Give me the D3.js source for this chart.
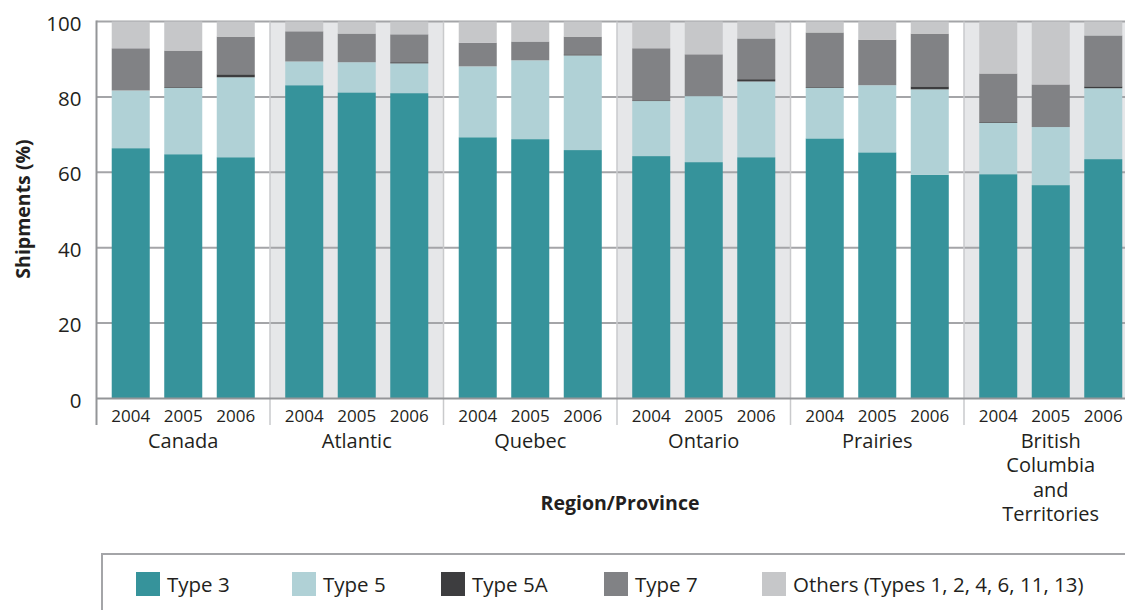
<!DOCTYPE html>
<html>
<head>
<meta charset="utf-8">
<script src="https://cdn.jsdelivr.net/npm/d3@7/dist/d3.min.js"></script>
<style>
  html, body { margin: 0; padding: 0; background: #fff; }
  svg { display: block; font-family: "Open Sans", "Noto Sans", sans-serif; }
</style>
</head>
<body>
<svg id="chart" width="1125" height="610"></svg>
<script>
// ---- Data ----
const regions = ["Canada", "Atlantic", "Quebec", "Ontario", "Prairies", "British Columbia and Territories"];
const regionLines = [["Canada"], ["Atlantic"], ["Quebec"], ["Ontario"], ["Prairies"], ["British", "Columbia", "and", "Territories"]];
const years = ["2004", "2005", "2006"];
const seriesNames = ["Type 3", "Type 5", "Type 5A", "Type 7", "Others (Types 1, 2, 4, 6, 11, 13)"];
// values per region (Canada..BC), per year (2004, 2005, 2006)
const type3  = [66.4, 64.8, 64.0, 83.1, 81.2, 81.0, 69.3, 68.8, 65.9, 64.3, 62.7, 64.0, 69.0, 65.3, 59.3, 59.5, 56.6, 63.5];
const type5  = [15.3, 17.6, 21.2,  6.3,  8.0,  7.9, 18.8, 20.9, 25.1, 14.6, 17.5, 20.1, 13.4, 17.8, 22.7, 13.6, 15.4, 18.8];
const type5A = [ 0.0,  0.2,  0.8,  0.0,  0.0,  0.3,  0.0,  0.0,  0.3,  0.2,  0.0,  0.6,  0.2,  0.0,  0.8,  0.2,  0.0,  0.5];
const type7  = [11.2,  9.7, 10.0,  8.0,  7.6,  7.4,  6.3,  5.0,  4.7, 13.8, 11.1, 10.8, 14.5, 12.1, 14.0, 12.9, 11.3, 13.5];
const others = [ 7.1,  7.7,  4.0,  2.6,  3.2,  3.4,  5.6,  5.3,  4.0,  7.1,  8.7,  4.5,  2.9,  4.8,  3.2, 13.8, 16.7,  3.7];
const yTicks = [0, 20, 40, 60, 80, 100];

const colors = ["#36939b", "#b0d1d6", "#3d3d3f", "#818285", "#c6c7c9"];
const seriesData = [type3, type5, type5A, type7, others];

// ---- Build table ----
const rows = [];
regions.forEach((r, ri) => {
  years.forEach((yr, yi) => {
    const i = ri * years.length + yi;
    const row = { region: r, year: yr };
    seriesNames.forEach((s, si) => { row[s] = seriesData[si][i]; });
    rows.push(row);
  });
});

const svg = d3.select("#chart");
const plotLeft = 96.5, groupW = 173.5;
const plotTop = 21.5, plotBottom = 398.5;

const x0 = d3.scaleBand().domain(regions).range([plotLeft, plotLeft + groupW * regions.length]).padding(0);
const x1 = d3.scaleBand().domain(years).range([0, x0.bandwidth()]).paddingInner(0.276).paddingOuter(0.29);
const y = d3.scaleLinear().domain([0, 100]).range([plotBottom, plotTop]);
const color = d3.scaleOrdinal().domain(seriesNames).range(colors);

// group backgrounds
svg.append("g").selectAll("rect").data(regions).join("rect")
  .attr("x", d => x0(d)).attr("y", y(100))
  .attr("width", x0.bandwidth()).attr("height", y(0) - y(100))
  .attr("fill", (d, i) => i % 2 === 1 ? "#e6e7e9" : "#ffffff");

// gridlines
svg.append("g").selectAll("line").data(yTicks.filter(d => d > 0)).join("line")
  .attr("x1", plotLeft).attr("x2", plotLeft + groupW * regions.length)
  .attr("y1", d => y(d)).attr("y2", d => y(d))
  .attr("stroke", "#a4a5a8").attr("stroke-width", 2);

// separators between groups
svg.append("g").selectAll("line").data(regions.slice(1)).join("line")
  .attr("x1", d => x0(d)).attr("x2", d => x0(d))
  .attr("y1", y(100)).attr("y2", 425)
  .attr("stroke", "#c9cacc").attr("stroke-width", 1.5);

// stacked bars
const stack = d3.stack().keys(seriesNames);
const stacked = stack(rows);
svg.append("g").selectAll("g").data(stacked).join("g")
  .attr("fill", d => color(d.key))
  .selectAll("rect").data(d => d).join("rect")
  .attr("x", d => x0(d.data.region) + x1(d.data.year))
  .attr("y", d => y(d[1]))
  .attr("width", x1.bandwidth())
  .attr("height", d => Math.max(0, y(d[0]) - y(d[1])));

// bottom axis line
svg.append("line")
  .attr("x1", plotLeft).attr("x2", plotLeft + groupW * regions.length)
  .attr("y1", y(0)).attr("y2", y(0))
  .attr("stroke", "#939598").attr("stroke-width", 2);

// left axis line
svg.append("line")
  .attr("x1", plotLeft).attr("x2", plotLeft)
  .attr("y1", y(100) - 1).attr("y2", 425)
  .attr("stroke", "#939598").attr("stroke-width", 2);

// y axis tick labels via d3 axis
const yAxis = d3.axisLeft(y).tickValues(yTicks).tickSize(0).tickPadding(15).tickFormat(d3.format("d"));
const yg = svg.append("g").attr("transform", `translate(${plotLeft},0)`).call(yAxis);
yg.select(".domain").remove();
yg.selectAll("text").attr("font-size", "20.5px").attr("fill", "#231f20")
  .attr("font-family", "'Open Sans', sans-serif").attr("dy", "0.42em");

// year labels
const yearG = svg.append("g");
rows.forEach(r => {
  yearG.append("text")
    .attr("x", x0(r.region) + x1(r.year) + x1.bandwidth() / 2)
    .attr("y", 421.5)
    .attr("text-anchor", "middle")
    .attr("font-size", "17px").attr("fill", "#231f20")
    .text(r.year);
});

// region labels
const regG = svg.append("g");
regions.forEach((r, ri) => {
  const t = regG.append("text")
    .attr("x", x0(r) + x0.bandwidth() / 2)
    .attr("y", 448)
    .attr("text-anchor", "middle")
    .attr("font-size", "20px").attr("fill", "#231f20");
  regionLines[ri].forEach((ln, li) => {
    t.append("tspan").attr("x", x0(r) + x0.bandwidth() / 2).attr("dy", li === 0 ? 0 : 24.3).text(ln);
  });
});

// axis titles
svg.append("text")
  .attr("x", 620).attr("y", 510)
  .attr("text-anchor", "middle").attr("font-weight", "bold")
  .attr("font-size", "19.5px").attr("fill", "#231f20")
  .text("Region/Province");

svg.append("text")
  .attr("transform", `translate(30,209) rotate(-90)`)
  .attr("text-anchor", "middle").attr("font-weight", "bold")
  .attr("font-size", "19.5px").attr("fill", "#231f20")
  .text("Shipments (%)");

// legend
svg.append("rect")
  .attr("x", 102).attr("y", 554).attr("width", 1100).attr("height", 100)
  .attr("fill", "none").attr("stroke", "#a4a5a8").attr("stroke-width", 2);
const legendX = [136, 292, 441, 604, 762];
const lg = svg.append("g").selectAll("g").data(seriesNames).join("g")
  .attr("transform", (d, i) => `translate(${legendX[i]},572)`);
lg.append("rect").attr("width", 24).attr("height", 24).attr("fill", d => color(d));
lg.append("text").attr("x", 31).attr("y", 20)
  .attr("font-size", "20.5px").attr("fill", "#231f20").text(d => d);
</script>
</body>
</html>
